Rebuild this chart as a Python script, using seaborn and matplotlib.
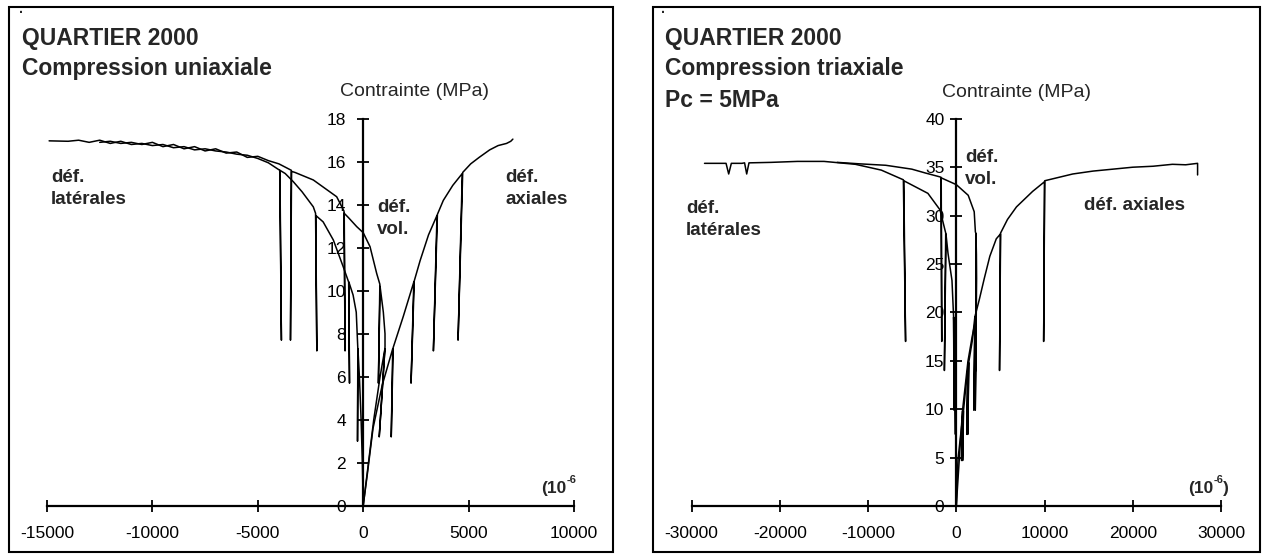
import matplotlib
matplotlib.use("Agg")
import matplotlib.pyplot as plt
import seaborn as sns
from matplotlib.patches import Rectangle

# ---- uniaxial compression (left panel), strain in 1e-6, stress in MPa
uni_ax_x = [0, 200, 466, 900, 1400, 1330, 1420, 1900, 2400, 2270, 2420,
            2700, 3100, 3500, 3330, 3520, 3800, 4250, 4700, 4500, 4720, 5100, 5500, 6000, 6400,
            6800, 7000, 7100]
uni_ax_y = [0, 1.5, 3.6, 5.6, 7.3, 3.2, 7.35, 8.8, 10.4, 5.7, 10.45,
            11.4, 12.6, 13.5, 7.2, 13.55, 14.2, 14.9, 15.45, 7.7, 15.5, 15.9, 16.2, 16.55, 16.75,
            16.85, 16.95, 17.05]

uni_lat_x = [0, -40, -100, -180, -250, -270, -255, -330, -480, -680, -650, -690, -943, -1418,
             -1900, -2250, -2200, -2260, -2367, -2900, -3316, -3700, -3950, -3880, -3960, -4500,
             -5000, -5500, -6000, -6500, -7000, -7500, -8000, -8500, -9000, -9500, -10000,
             -10500, -11000, -11500, -12000, -12500, -13000, -13500, -14000, -14900]
uni_lat_y = [0, 2, 4, 6, 7.3, 3.0, 7.3, 9.0, 9.8, 10.4, 5.7, 10.4, 11.1, 12.36,
             13.2, 13.5, 7.2, 13.6, 13.9, 14.6, 15.07, 15.45, 15.6, 7.7, 15.6, 15.95,
             16.15, 16.3, 16.35, 16.45, 16.5, 16.6, 16.55, 16.7, 16.65, 16.8, 16.75,
             16.85, 16.8, 16.95, 16.85, 17.0, 16.9, 17.0, 16.95, 16.97]

uni_vol_x = [0, 250, 500, 800, 1030, 760, 1035, 1034, 955, 800, 720, 790, 640, 323, 0, -308,
             -700, -900, -860, -910, -1258, -2367, -3235, -3400, -3450, -3410, -4000, -4500,
             -5000, -5500, -6000, -6500, -7000, -7500, -8000, -8500, -9000, -9500, -10000,
             -10500, -11000, -11500, -12000, -12500]
uni_vol_y = [0, 2, 4, 6, 7.3, 3.2, 7.4, 8.0, 9.0, 10.2, 5.7, 10.3, 10.8, 12.05, 12.7, 12.98,
             13.4, 13.6, 7.2, 13.7, 14.37, 15.15, 15.5, 15.55, 7.7, 15.6, 15.9, 16.05,
             16.25, 16.2, 16.45, 16.4, 16.6, 16.5, 16.7, 16.6, 16.8, 16.7, 16.9,
             16.8, 16.9, 16.85, 16.95, 16.9]

# ---- triaxial compression, Pc = 5 MPa (right panel)
tri_ax_x = [0, 190, 450, 800, 720, 820, 1100, 1400, 1300, 1420, 1800, 2100, 1990, 2120, 2600,
            3170, 3800, 4530, 5000, 4900, 5020, 5800, 6820, 8650, 10000, 9900, 10020, 10470,
            13200, 15500, 17760, 20000, 22300, 24500, 26000, 27350, 27350]
tri_ax_y = [0, 4.8, 7.0, 9.8, 4.7, 9.9, 12.5, 14.8, 7.4, 14.9, 17.0, 19.5, 9.9, 19.6, 21.3,
            23.5, 25.8, 27.6, 28.1, 14.0, 28.2, 29.6, 30.9, 32.5, 33.5, 17.0, 33.6, 33.7,
            34.3, 34.6, 34.8, 35.0, 35.1, 35.3, 35.25, 35.4, 34.2]

tri_lat_x = [0, -30, -60, -50, -70, -120, -100, -130, -300, -250, -310, -490, -940, -1170,
             -1350, -1200, -1850, -3220, -5950, -5750, -6000, -8500, -11440, -15000, -18000,
             -21000, -23500, -23760, -24000, -24300, -25500, -25800, -26100, -28540]
tri_lat_y = [0, 5, 9.8, 4.7, 9.9, 14.8, 7.4, 14.9, 19.5, 9.9, 19.6, 23.3, 26.1, 28.1,
             14.0, 28.2, 30.6, 32.3, 33.6, 17.0, 33.7, 34.7, 35.3, 35.6, 35.6,
             35.5, 35.45, 34.3, 35.45, 35.4, 35.4, 34.3, 35.4, 35.4]

tri_vol_x = [0, 350, 700, 600, 710, 1300, 1200, 1310, 1800, 2250, 2150, 2260, 2300, 2280, 2230,
             2250, 2220, 2165, 2030, 1350, 0, -1710, -1650, -1720, -1850, -3500, -5045, -8000,
             -11000, -13500]
tri_vol_y = [0, 5, 9.8, 4.7, 9.9, 14.8, 7.4, 14.9, 17.5, 19.5, 9.9, 19.6, 23.5, 26.0, 28.1,
             14.0, 28.2, 28.3, 30.4, 32.1, 33.2, 33.9, 17.0, 33.95, 34.0, 34.4, 34.8, 35.2,
             35.35, 35.5]

uni_xticks = [-15000, -10000, -5000, 0, 5000, 10000]
uni_yticks = [0, 2, 4, 6, 8, 10, 12, 14, 16, 18]
tri_xticks = [-30000, -20000, -10000, 0, 10000, 20000, 30000]
tri_yticks = [0, 5, 10, 15, 20, 25, 30, 35, 40]

sns.set_theme(style="white")
plt.rcParams["font.family"] = ["Liberation Sans", "DejaVu Sans"]

W, H = 1262, 558
fig = plt.figure(figsize=(W / 100, H / 100), dpi=100)


def fx(px):
    return px / W


def fy(py):
    return 1 - py / H


def setup(ax, xticks, yticks, ypad):
    for s in ["top", "right"]:
        ax.spines[s].set_visible(False)
    ax.spines["left"].set_position(("data", 0))
    ax.spines["bottom"].set_position(("data", 0))
    ax.spines["left"].set_bounds(yticks[0], yticks[-1])
    ax.spines["bottom"].set_bounds(xticks[0], xticks[-1])
    for s in ["left", "bottom"]:
        ax.spines[s].set_linewidth(1.6)
        ax.spines[s].set_color("black")
    ax.set_xticks(xticks)
    ax.set_yticks(yticks)
    ax.set_xticklabels([str(t) for t in xticks])
    ax.set_yticklabels([str(t) for t in yticks])
    ax.tick_params(bottom=True, left=True, direction="inout", length=9, width=1.3,
                   labelsize=12.5, colors="black")
    ax.tick_params(axis="x", pad=10)
    ax.tick_params(axis="y", pad=ypad)
    ax.set_xlabel("")
    ax.set_ylabel("")
    ax.add_patch(Rectangle((0, 0), 1, 1, transform=ax.transAxes, fill=False,
                           lw=1.5, ec="black", clip_on=False))


ax1 = fig.add_axes([fx(9), fy(552), fx(613) - fx(9), (552 - 7) / H])
ax2 = fig.add_axes([fx(653), fy(552), fx(1260) - fx(653), (552 - 7) / H])

for xs, ys in [(uni_ax_x, uni_ax_y), (uni_lat_x, uni_lat_y), (uni_vol_x, uni_vol_y)]:
    sns.lineplot(x=xs, y=ys, sort=False, estimator=None, color="black", lw=1.1, ax=ax1)
for xs, ys in [(tri_ax_x, tri_ax_y), (tri_lat_x, tri_lat_y), (tri_vol_x, tri_vol_y)]:
    sns.lineplot(x=xs, y=ys, sort=False, estimator=None, color="black", lw=1.1, ax=ax2)

ax1.set_xlim(-16803, 11850)
ax1.set_ylim(-2.153, 23.195)
ax2.set_xlim(-34380, 34425)
ax2.set_ylim(-4.75, 51.55)
setup(ax1, uni_xticks, uni_yticks, 8)
setup(ax2, tri_xticks, tri_yticks, 4)

title_kw = dict(fontsize=16.5, fontweight="bold", va="baseline")
lab_kw = dict(fontsize=13.5, fontweight="bold", va="baseline")

# left panel texts
fig.text(fx(22), fy(45), "QUARTIER 2000", **title_kw)
fig.text(fx(22), fy(75), "Compression uniaxiale", **title_kw)
fig.text(fx(340), fy(96), "Contrainte (MPa)", fontsize=14, va="baseline")
fig.text(fx(51), fy(182), "déf.", **lab_kw)
fig.text(fx(51), fy(204), "latérales", **lab_kw)
fig.text(fx(505), fy(182), "déf.", **lab_kw)
fig.text(fx(505), fy(204), "axiales", **lab_kw)
fig.text(fx(377), fy(212), "déf.", **lab_kw)
fig.text(fx(377), fy(234), "vol.", **lab_kw)

# right panel texts
fig.text(fx(665), fy(45), "QUARTIER 2000", **title_kw)
fig.text(fx(665), fy(75), "Compression triaxiale", **title_kw)
fig.text(fx(665), fy(107), "Pc = 5MPa", **title_kw)
fig.text(fx(942), fy(97), "Contrainte (MPa)", fontsize=14, va="baseline")
fig.text(fx(686), fy(213), "déf.", **lab_kw)
fig.text(fx(686), fy(235), "latérales", **lab_kw)
fig.text(fx(1084), fy(210), "déf. axiales", **lab_kw)
fig.text(fx(965), fy(162), "déf.", **lab_kw)
fig.text(fx(965), fy(184), "vol.", **lab_kw)

# small specks in the corners
fig.text(fx(19), fy(17), "·", fontsize=10, fontweight="bold", va="baseline")
fig.text(fx(661), fy(17), "·", fontsize=10, fontweight="bold", va="baseline")

# strain unit labels (10^-6)
fig.canvas.draw()
r = fig.canvas.get_renderer()


def unit_label(px, close):
    t = fig.text(fx(px), fy(493), "(10", fontsize=12.5, fontweight="bold", va="baseline")
    x1 = t.get_window_extent(r).x1
    s = fig.text(x1 / W, fy(483), "-6", fontsize=8, fontweight="bold", va="baseline")
    if close:
        x2 = s.get_window_extent(r).x1
        fig.text(x2 / W, fy(493), ")", fontsize=12.5, fontweight="bold", va="baseline")


unit_label(541, False)
unit_label(1188, True)

fig.savefig("out.png", dpi=100)
